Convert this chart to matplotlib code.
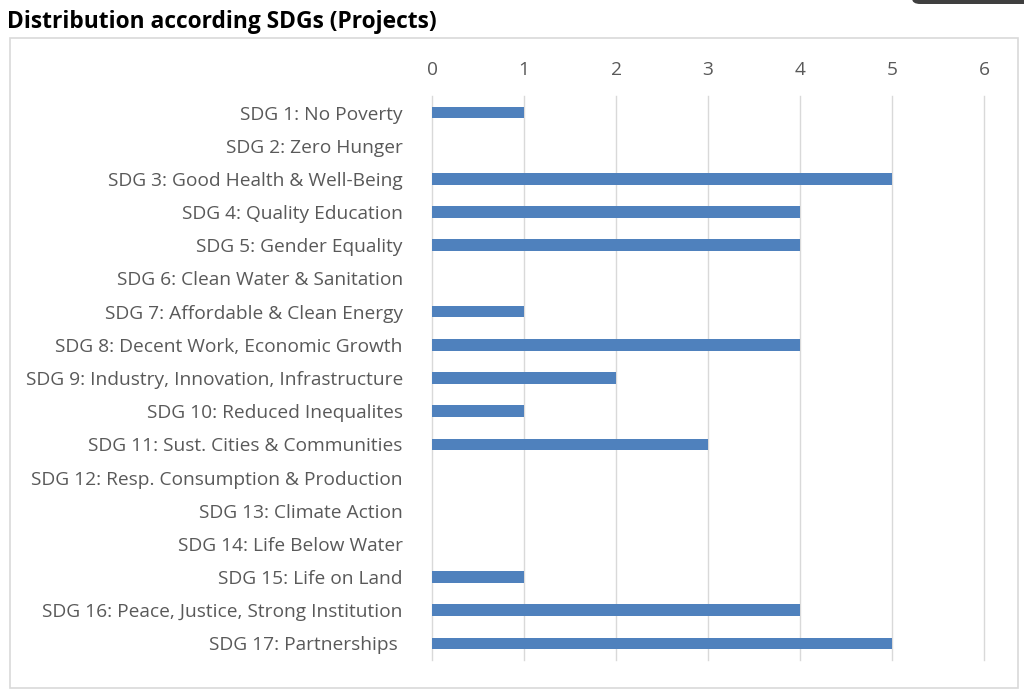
import matplotlib.pyplot as plt
from matplotlib.patches import Rectangle, FancyBboxPatch

# SDG categories and project counts
sdg_labels = [
    "SDG 1: No Poverty",
    "SDG 2: Zero Hunger",
    "SDG 3: Good Health & Well-Being",
    "SDG 4: Quality Education",
    "SDG 5: Gender Equality",
    "SDG 6: Clean Water & Sanitation",
    "SDG 7: Affordable & Clean Energy",
    "SDG 8: Decent Work, Economic Growth",
    "SDG 9: Industry, Innovation, Infrastructure",
    "SDG 10: Reduced Inequalites",
    "SDG 11: Sust. Cities & Communities",
    "SDG 12: Resp. Consumption & Production",
    "SDG 13: Climate Action",
    "SDG 14: Life Below Water",
    "SDG 15: Life on Land",
    "SDG 16: Peace, Justice, Strong Institution",
    "SDG 17: Partnerships ",
]
projects = [1, 0, 5, 4, 4, 0, 1, 4, 2, 1, 3, 0, 0, 0, 1, 4, 5]
x_ticks = [0, 1, 2, 3, 4, 5, 6]

plt.rcParams['font.family'] = ['Open Sans', 'DejaVu Sans']

fig = plt.figure(figsize=(10.24, 6.97), dpi=100)

# chart frame
fig.patches.append(Rectangle((10 / 1024, 1 - 688 / 697), 1008 / 1024, 650 / 697,
                             transform=fig.transFigure, fill=False,
                             edgecolor='#D9D9D9', linewidth=1.2))
# dark tab at top right
fig.patches.append(FancyBboxPatch((912 / 1024, 1 - 4 / 697), 0.2, 0.05,
                                  boxstyle="round,pad=0,rounding_size=0.008",
                                  transform=fig.transFigure, facecolor='#3F3F3F',
                                  edgecolor='none', clip_on=False))

fig.text(7 / 1024, 1 - 22 / 697, "Distribution according SDGs (Projects)",
         fontsize=16.4, fontweight='bold', color='black', va='center', ha='left')

ax = fig.add_axes([432 / 1024, 37 / 697, 552 / 1024, 564 / 697])
y = list(range(len(sdg_labels)))
ax.barh(y, projects, height=0.35, color='#4F81BD', linewidth=0, zorder=3)

ax.set_xlim(0, 6)
ax.set_ylim(len(sdg_labels) - 0.5, -0.5)
ax.set_xticks(x_ticks)
ax.set_yticks(y)
ax.set_yticklabels(sdg_labels)
ax.xaxis.tick_top()
ax.tick_params(axis='x', length=0, pad=12, labelsize=13.8, labelcolor='#595959')
ax.tick_params(axis='y', length=0, pad=21, labelsize=13.8, labelcolor='#595959')
ax.grid(axis='x', color='#D9D9D9', linewidth=1.0, zorder=0)
for gl in ax.get_xgridlines():
    gl.set_clip_on(False)
for s in ax.spines.values():
    s.set_visible(False)

fig.savefig('out.png', dpi=100)
